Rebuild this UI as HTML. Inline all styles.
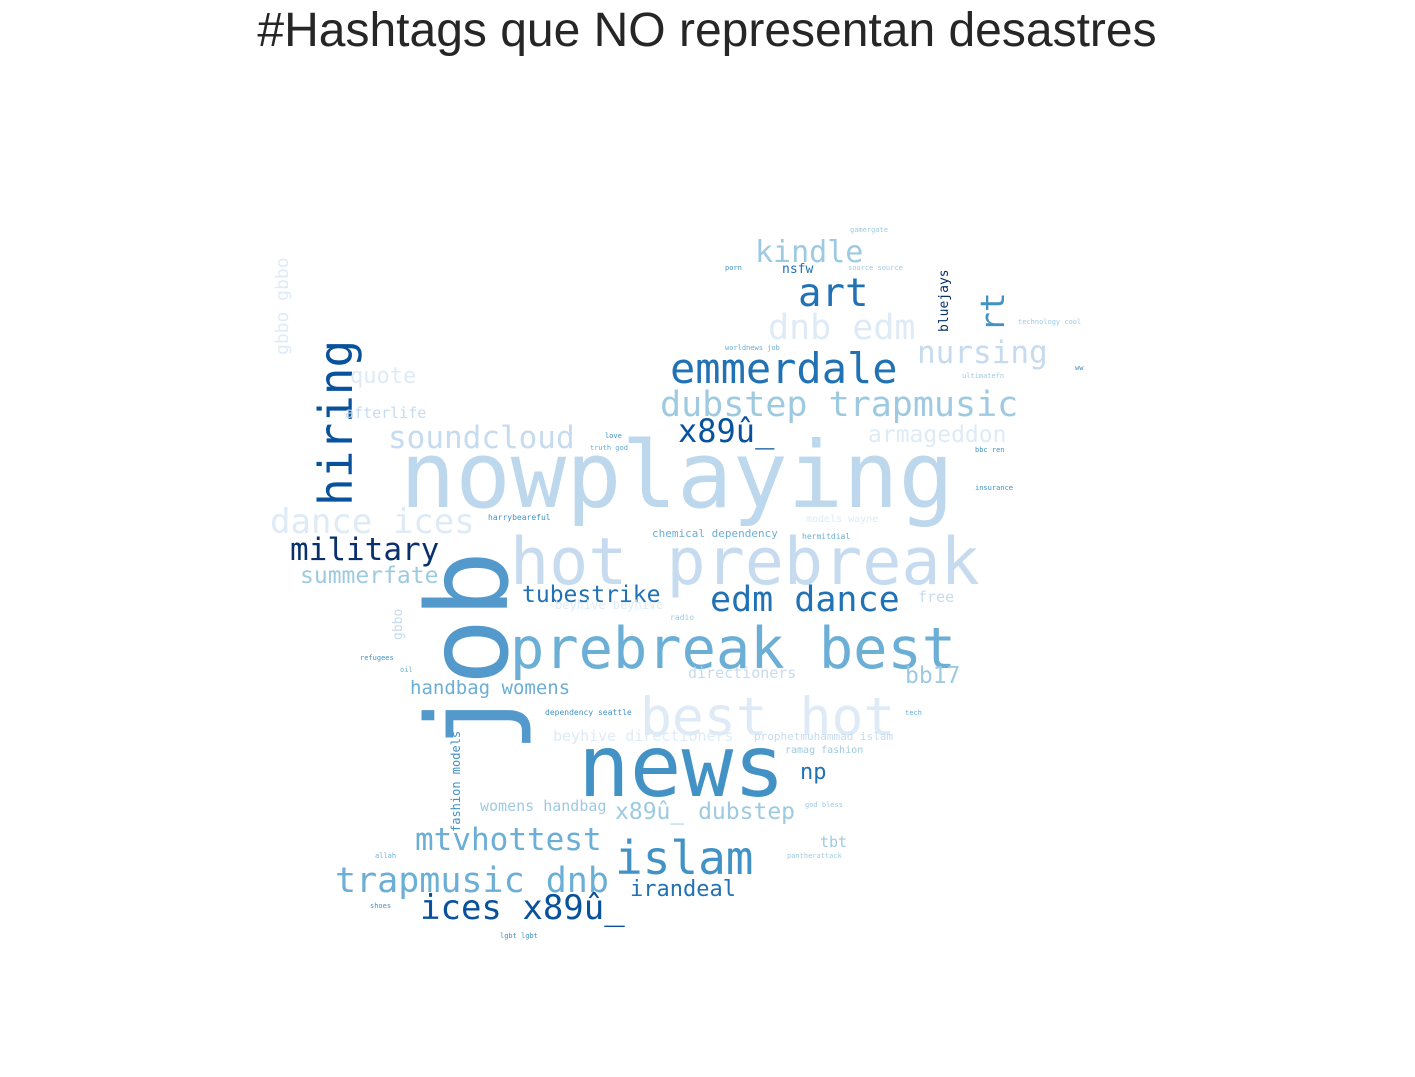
<!DOCTYPE html>
<html><head><meta charset="utf-8"><style>
html,body{margin:0;padding:0;background:#fff;width:1415px;height:1077px;overflow:hidden}
svg{display:block}
.w{font-family:"DejaVu Sans Mono","Liberation Mono",monospace}
</style></head><body>
<svg width="1415" height="1077">
<text x="707" y="46" text-anchor="middle" font-family="Liberation Sans, Arial, sans-serif" font-size="48" fill="#262626">#Hashtags que NO representan desastres</text>
<g id="cloud"></g>
</svg>
<script>
// word, x, y (baseline), font size, color, rotated
const words = [
["nowplaying",400,507,92,"#bdd7ec",0],
["hot prebreak",510,584,65,"#c6dbef",0],
["prebreak best",510,668,57,"#6baed6",0],
["best hot",640,735,53,"#deebf7",0],
["news",578,796,86,"#4292c6",0],
["job",507,753,112,"#5499cb",1],
["hiring",352,506,46,"#08519c",1],
["emmerdale",670,383,42,"#2171b5",0],
["dubstep trapmusic",660,416,35,"#9ecae1",0],
["nursing",917,363,31,"#c6dbef",0],
["dnb edm",768,339,35,"#deebf7",0],
["art",798,306,39,"#2171b5",0],
["kindle",755,262,30,"#9ecae1",0],
["rt",1004,332,33,"#4292c6",1],
["bluejays",948,332,13,"#08306b",1],
["nsfw",782,273,13,"#2171b5",0],
["soundcloud",388,448,31,"#c6dbef",0],
["x89û_",678,442,32,"#08519c",0],
["armageddon",868,442,23,"#deebf7",0],
["quote",350,383,22,"#deebf7",0],
["afterlife",345,418,15,"#c6dbef",0],
["dance ices",270,533,34,"#deebf7",0],
["military",290,560,31,"#08306b",0],
["summerfate",300,583,23,"#9ecae1",0],
["tubestrike",522,602,23,"#2171b5",0],
["edm dance",710,611,35,"#2171b5",0],
["free",918,602,15,"#c6dbef",0],
["beyhive beyhive",555,609,12,"#deebf7",0],
["bb17",905,683,23,"#9ecae1",0],
["directioners",688,678,15,"#c6dbef",0],
["handbag womens",410,694,19,"#6baed6",0],
["beyhive directioners",553,741,15,"#deebf7",0],
["prophetmuhammad islam",754,740,11,"#c6dbef",0],
["ramag fashion",785,753,10,"#9ecae1",0],
["np",800,779,22,"#2171b5",0],
["x89û_ dubstep",615,819,23,"#9ecae1",0],
["womens handbag",480,811,15,"#9ecae1",0],
["mtvhottest",415,850,31,"#6baed6",0],
["islam",615,874,46,"#4292c6",0],
["trapmusic dnb",335,892,35,"#6baed6",0],
["irandeal",630,896,22,"#2171b5",0],
["ices x89û_",420,919,34,"#08519c",0],
["tbt",820,847,15,"#9ecae1",0],
["gbbo gbbo",288,355,18,"#deebf7",1],
["gbbo",402,640,13,"#c6dbef",1],
["fashion models",460,832,12,"#4292c6",1],
["chemical dependency",652,537,11,"#6baed6",0],
["models wayne",806,522,10,"#deebf7",0],
["hermitdial",802,539,8,"#6baed6",0],
["harrybeareful",488,520,8,"#4292c6",0],
["insurance",975,490,7,"#4292c6",0],
["radio",670,620,8,"#9ecae1",0],
["refugees",360,660,7,"#4292c6",0],
["oil",400,672,7,"#6baed6",0],
["dependency seattle",545,715,8,"#4292c6",0],
["tech",905,715,7,"#6baed6",0],
["allah",375,858,7,"#6baed6",0],
["pantherattack",787,858,7,"#9ecae1",0],
["god bless",805,807,7,"#9ecae1",0],
["lgbt lgbt",500,938,7,"#4292c6",0],
["shoes",370,908,7,"#4292c6",0],
["porn",725,270,7,"#4292c6",0],
["gamergate",850,232,7,"#9ecae1",0],
["source source",848,270,7,"#9ecae1",0],
["technology cool",1018,324,7,"#9ecae1",0],
["worldnews job",725,350,7,"#6baed6",0],
["ultimatefn",962,378,7,"#9ecae1",0],
["love",605,438,7,"#4292c6",0],
["bbc ren",975,452,7,"#4292c6",0],
["truth god",590,450,7,"#6baed6",0],
["ww",1075,370,7,"#4292c6",0]
];
const g = document.getElementById('cloud');
const NS = "http://www.w3.org/2000/svg";
for (const [t,x,y,s,c,r] of words) {
  const el = document.createElementNS(NS,'text');
  el.setAttribute('x', x); el.setAttribute('y', y);
  el.setAttribute('font-size', s); el.setAttribute('fill', c);
  el.setAttribute('class','w');
  if (r) el.setAttribute('transform', `rotate(-90 ${x} ${y})`);
  el.textContent = t;
  
  
  g.appendChild(el);
}
</script>
</body></html>
